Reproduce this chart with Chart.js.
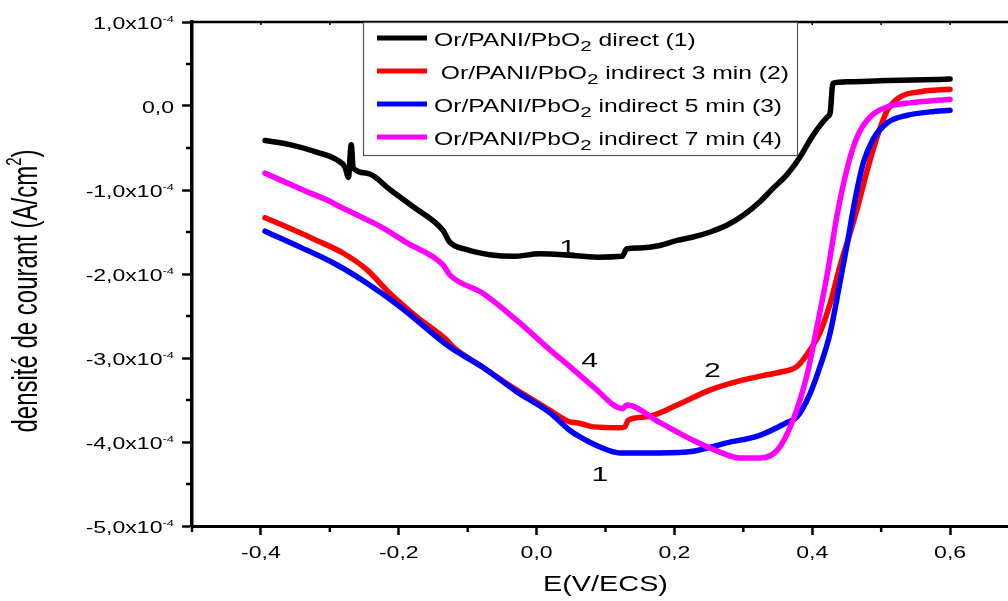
<!DOCTYPE html>
<html>
<head>
<meta charset="utf-8">
<title>Voltammétrie Or/PANI/PbO2</title>
<script src="https://cdn.jsdelivr.net/npm/chart.js@4.4.1/dist/chart.umd.min.js"></script>
<style>
  html, body { margin: 0; padding: 0; background: #fff; overflow: hidden; }
  body { width: 1008px; height: 601px; }
  #wrap { width: 1030px; height: 601px; }
  canvas { display: block; }
</style>
</head>
<body>
<div id="wrap"><canvas id="chart" width="1030" height="601"></canvas></div>
<script>
// Potential E (V/ECS) and current density j (in units of 1e-4 A/cm2) for each electrode.
const eDirect = [-0.394, -0.358, -0.319, -0.290, -0.278, -0.273, -0.269, -0.266, -0.246, -0.212,
                 -0.179, -0.136, -0.126, -0.101, -0.068, -0.034, 0.005, 0.038, 0.088, 0.124,
                 0.131, 0.150, 0.179, 0.204, 0.227, 0.252, 0.276, 0.300, 0.324, 0.343,
                 0.363, 0.382, 0.401, 0.422, 0.426, 0.430, 0.451, 0.498, 0.546, 0.600];
const jDirect = [-0.41, -0.46, -0.55, -0.64, -0.73, -0.85, -0.46, -0.74, -0.80, -1.00,
                 -1.20, -1.48, -1.62, -1.71, -1.77, -1.79, -1.76, -1.77, -1.80, -1.79,
                 -1.70, -1.69, -1.66, -1.60, -1.56, -1.50, -1.42, -1.30, -1.14, -0.98,
                 -0.82, -0.61, -0.35, -0.13, -0.08, 0.27, 0.29, 0.30, 0.31, 0.32];

const eInd3 = [-0.394, -0.368, -0.319, -0.281, -0.246, -0.213, -0.174, -0.130, -0.121, -0.078,
               -0.029, 0.019, 0.048, 0.059, 0.082, 0.121, 0.128, 0.133, 0.160, 0.204,
               0.252, 0.300, 0.334, 0.353, 0.378, 0.397, 0.411, 0.426, 0.440, 0.455,
               0.466, 0.480, 0.494, 0.509, 0.528, 0.557, 0.600];
const jInd3 = [-1.33, -1.42, -1.60, -1.75, -1.95, -2.23, -2.51, -2.79, -2.87, -3.11,
               -3.38, -3.62, -3.76, -3.77, -3.82, -3.83, -3.82, -3.74, -3.70, -3.56,
               -3.38, -3.26, -3.20, -3.17, -3.10, -2.90, -2.70, -2.35, -1.91, -1.51,
               -1.20, -0.76, -0.37, -0.05, 0.11, 0.17, 0.20];

const eInd5 = [-0.394, -0.343, -0.290, -0.246, -0.198, -0.126, -0.078, -0.029, 0.019, 0.048,
               0.063, 0.092, 0.121, 0.179, 0.227, 0.276, 0.324, 0.363, 0.378, 0.397,
               0.411, 0.426, 0.440, 0.451, 0.462, 0.474, 0.488, 0.509, 0.538, 0.571, 0.600];
const jInd5 = [-1.49, -1.68, -1.89, -2.11, -2.39, -2.87, -3.11, -3.40, -3.65, -3.86,
               -3.94, -4.06, -4.13, -4.13, -4.11, -4.01, -3.92, -3.77, -3.70, -3.42,
               -3.11, -2.70, -2.11, -1.63, -1.12, -0.68, -0.40, -0.20, -0.11, -0.07, -0.05];

const eInd7 = [-0.394, -0.333, -0.304, -0.285, -0.237, -0.223, -0.188, -0.136, -0.126, -0.078,
               -0.029, 0.019, 0.048, 0.082, 0.125, 0.131, 0.179, 0.227, 0.266, 0.295,
               0.324, 0.349, 0.372, 0.393, 0.407, 0.422, 0.436, 0.451, 0.465, 0.484,
               0.509, 0.546, 0.600];
const jInd7 = [-0.80, -1.02, -1.12, -1.20, -1.39, -1.45, -1.63, -1.89, -2.01, -2.23,
               -2.55, -2.90, -3.10, -3.34, -3.60, -3.56, -3.77, -3.98, -4.12, -4.19,
               -4.19, -4.10, -3.74, -3.18, -2.62, -1.99, -1.30, -0.73, -0.37, -0.13,
               -0.01, 0.04, 0.08];

// Legend entries: text before the subscript, the subscript, text after it.
const seriesHead = ['Or/PANI/PbO', ' Or/PANI/PbO', 'Or/PANI/PbO', 'Or/PANI/PbO'];
const seriesSub = ['2', '2', '2', '2'];
const seriesTail = [' direct (1)', ' indirect 3 min (2)', ' indirect 5 min (3)', ' indirect 7 min (4)'];
const seriesColors = ['#000000', '#ff0000', '#0000ff', '#ff00ff'];

// Axis ticks
const xMajorTicks = [-0.4, -0.2, 0.0, 0.2, 0.4, 0.6];
const xTickLabels = ['-0,4', '-0,2', '0,0', '0,2', '0,4', '0,6'];
const xMinorTicks = [-0.5, -0.3, -0.1, 0.1, 0.3, 0.5];
const yMajorTicks = [1, 0, -1, -2, -3, -4, -5];
const yTickLabels = ['1,0x10', '0,0', '-1,0x10', '-2,0x10', '-3,0x10', '-4,0x10', '-5,0x10'];
const yTickExponents = ['-4', '', '-4', '-4', '-4', '-4', '-4'];
const yMinorTicks = [0.5, -0.5, -1.5, -2.5, -3.5, -4.5];

// Curve numbers written next to the curves
const curveTags = ['1', '4', '2', '1'];
const curveTagE = [0.045, 0.077, 0.255, 0.092];
const curveTagJ = [-1.67, -3.02, -3.14, -4.37];

const FONT = '"Liberation Sans", Arial, Helvetica, sans-serif';
const SX = 1.44; // lettering is drawn horizontally widened

function runsWidth(ctx, runs) {
  let w = 0;
  for (const r of runs) {
    ctx.font = r.size + 'px ' + FONT;
    w += ctx.measureText(r.text).width;
  }
  return w;
}

// Draws a line of text made of runs (for sub/superscripts); y is the baseline.
function drawRuns(ctx, runs, x, y, opt) {
  const o = Object.assign({align: 'left', sx: SX, rotate: 0}, opt || {});
  ctx.save();
  ctx.translate(x, y);
  ctx.scale(o.sx, 1);
  if (o.rotate) ctx.rotate(o.rotate);
  const w = runsWidth(ctx, runs);
  let cx = o.align === 'center' ? -w / 2 : (o.align === 'right' ? -w : 0);
  ctx.textAlign = 'left';
  ctx.textBaseline = 'alphabetic';
  ctx.fillStyle = '#000';
  for (const r of runs) {
    ctx.font = r.size + 'px ' + FONT;
    ctx.fillText(r.text, cx, r.dy || 0);
    cx += ctx.measureText(r.text).width;
  }
  ctx.restore();
}

const decorations = {
  id: 'decorations',
  afterDraw(chart) {
    const ctx = chart.ctx;
    const xs = chart.scales.x, ys = chart.scales.y;
    const a = chart.chartArea;
    ctx.save();
    ctx.strokeStyle = '#000';
    ctx.lineCap = 'butt';

    // frame (top and right sides)
    ctx.lineWidth = 2.5;
    ctx.beginPath();
    ctx.moveTo(a.left, a.top);
    ctx.lineTo(a.right, a.top);
    ctx.lineTo(a.right, a.bottom);
    ctx.stroke();

    // small marks on the top side
    ctx.lineWidth = 1.5;
    for (const v of xMajorTicks.concat(xMinorTicks)) {
      const px = xs.getPixelForValue(v);
      ctx.beginPath();
      ctx.moveTo(px, a.top);
      ctx.lineTo(px, a.top + 3);
      ctx.stroke();
    }

    // minor ticks
    ctx.lineWidth = 2.5;
    for (const v of xMinorTicks) {
      const px = xs.getPixelForValue(v);
      ctx.beginPath();
      ctx.moveTo(px, a.bottom);
      ctx.lineTo(px, a.bottom + 6);
      ctx.stroke();
    }
    for (const v of yMinorTicks) {
      const py = ys.getPixelForValue(v);
      ctx.beginPath();
      ctx.moveTo(a.left - 6, py);
      ctx.lineTo(a.left, py);
      ctx.stroke();
    }

    // y tick labels with exponent
    yMajorTicks.forEach((v, i) => {
      const py = ys.getPixelForValue(v);
      const runs = [{text: yTickLabels[i], size: 16}];
      if (yTickExponents[i]) runs.push({text: yTickExponents[i], size: 9, dy: -7});
      drawRuns(ctx, runs, 174, py + 6.5, {align: 'right'});
    });

    // x tick labels
    xMajorTicks.forEach((v, i) => {
      const px = xs.getPixelForValue(v);
      drawRuns(ctx, [{text: xTickLabels[i], size: 16}], px, 558, {align: 'center'});
    });

    // axis titles
    drawRuns(ctx, [{text: 'E(V/ECS)', size: 22}], (a.left + a.right) / 2, 591, {align: 'center', sx: 1.31});
    drawRuns(ctx, [
      {text: 'densité de courant (A/cm', size: 24},
      {text: '2', size: 15, dy: -11},
      {text: ')', size: 24}
    ], 37, 291, {align: 'center', rotate: -Math.PI / 2});

    // curve numbers
    curveTags.forEach((t, i) => {
      const px = xs.getPixelForValue(curveTagE[i]);
      const py = ys.getPixelForValue(curveTagJ[i]);
      drawRuns(ctx, [{text: t, size: 21}], px, py + 7.5, {align: 'center'});
    });

    // legend box
    const lx0 = 363, ly0 = 22, lx1 = 798, ly1 = 156;
    ctx.fillStyle = '#fff';
    ctx.fillRect(lx0, ly0, lx1 - lx0, ly1 - ly0);
    ctx.strokeStyle = '#555';
    ctx.lineWidth = 1.2;
    ctx.strokeRect(lx0 + 0.5, ly0 + 0.5, lx1 - lx0 - 1, ly1 - ly0 - 1);
    chart.data.datasets.forEach((ds, i) => {
      const cy = 38 + 33 * i;
      ctx.strokeStyle = ds.borderColor;
      ctx.lineWidth = 5;
      ctx.beginPath();
      ctx.moveTo(377, cy);
      ctx.lineTo(427, cy);
      ctx.stroke();
      drawRuns(ctx, [
        {text: seriesHead[i], size: 18},
        {text: seriesSub[i], size: 15, dy: 5},
        {text: seriesTail[i], size: 18}
      ], 434, cy + 8, {sx: 1.37});
    });
    ctx.restore();
  }
};

const toPoints = (xs, ys) => xs.map((x, i) => ({x: x, y: ys[i]}));

new Chart(document.getElementById('chart'), {
  type: 'line',
  data: {
    datasets: [
      {label: 'Or/PANI/PbO2 direct (1)', data: toPoints(eDirect, jDirect), borderColor: seriesColors[0], order: 4},
      {label: 'Or/PANI/PbO2 indirect 3 min (2)', data: toPoints(eInd3, jInd3), borderColor: seriesColors[1], order: 3},
      {label: 'Or/PANI/PbO2 indirect 5 min (3)', data: toPoints(eInd5, jInd5), borderColor: seriesColors[2], order: 2},
      {label: 'Or/PANI/PbO2 indirect 7 min (4)', data: toPoints(eInd7, jInd7), borderColor: seriesColors[3], order: 1}
    ]
  },
  options: {
    responsive: false,
    animation: false,
    devicePixelRatio: 1,
    layout: {padding: {left: 0, top: 22, right: 11, bottom: 0}},
    elements: {
      line: {borderWidth: 5.5, cubicInterpolationMode: 'monotone', borderJoinStyle: 'round', borderCapStyle: 'round', fill: false},
      point: {radius: 0, hoverRadius: 0}
    },
    plugins: {legend: {display: false}, tooltip: {enabled: false}, title: {display: false}},
    events: [],
    scales: {
      x: {
        type: 'linear', min: -0.5, max: 0.7,
        afterBuildTicks: s => { s.ticks = xMajorTicks.map(v => ({value: v})); },
        afterFit: s => { s.height = 75; },
        ticks: {display: false},
        grid: {display: true, drawOnChartArea: false, drawTicks: true, tickLength: 9, tickWidth: 2.5, tickColor: '#000'},
        border: {display: true, color: '#000', width: 3}
      },
      y: {
        type: 'linear', min: -5, max: 1,
        afterBuildTicks: s => { s.ticks = yMajorTicks.map(v => ({value: v})); },
        afterFit: s => { s.width = 192; },
        ticks: {display: false},
        grid: {display: true, drawOnChartArea: false, drawTicks: true, tickLength: 10, tickWidth: 2.5, tickColor: '#000'},
        border: {display: true, color: '#000', width: 3.5}
      }
    }
  },
  plugins: [decorations]
});
</script>
</body>
</html>
